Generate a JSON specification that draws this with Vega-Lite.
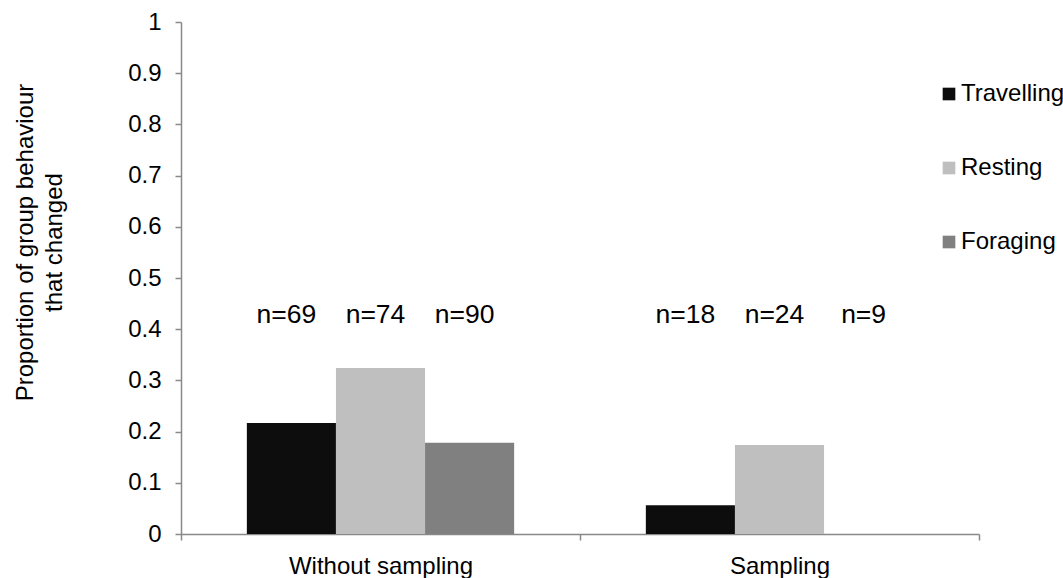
{
  "$schema": "https://vega.github.io/schema/vega-lite/v6.json",
  "autosize": {"type": "none"},
  "width": 798,
  "height": 512,
  "padding": {"left": 181, "top": 22, "right": 84, "bottom": 44},
  "background": "white",
  "config": {
    "view": {"stroke": null},
    "font": "Liberation Sans",
    "axis": {
      "labelFont": "Liberation Sans",
      "titleFont": "Liberation Sans",
      "labelFontSize": 24,
      "titleFontSize": 24,
      "titleFontWeight": "normal",
      "labelColor": "#000000",
      "titleColor": "#000000",
      "domainColor": "#898989",
      "tickColor": "#898989",
      "domainWidth": 1.5,
      "tickWidth": 1.5,
      "labelLimit": 0,
      "grid": false
    },
    "legend": {"labelFont": "Liberation Sans", "labelFontSize": 24, "labelColor": "#000000", "labelLimit": 0}
  },
  "data": {
    "values": [
      {"group": "Without sampling", "behaviour": "Travelling", "proportion": 0.217, "label": "n=69"},
      {"group": "Without sampling", "behaviour": "Resting", "proportion": 0.324, "label": "n=74"},
      {"group": "Without sampling", "behaviour": "Foraging", "proportion": 0.178, "label": "n=90"},
      {"group": "Sampling", "behaviour": "Travelling", "proportion": 0.056, "label": "n=18"},
      {"group": "Sampling", "behaviour": "Resting", "proportion": 0.174, "label": "n=24"},
      {"group": "Sampling", "behaviour": "Foraging", "proportion": 0, "label": "n=9"}
    ]
  },
  "encoding": {
    "x": {
      "field": "group",
      "type": "nominal",
      "sort": ["Without sampling", "Sampling"],
      "scale": {"paddingInner": 0, "paddingOuter": 0},
      "axis": {"title": null, "labelAngle": 0, "tickBand": "extent", "tickSize": 6, "labelPadding": 14, "labelLimit": 0}
    },
    "xOffset": {
      "field": "behaviour",
      "type": "nominal",
      "sort": ["Travelling", "Resting", "Foraging"],
      "scale": {"paddingInner": 0, "paddingOuter": 0.739}
    }
  },
  "layer": [
    {
      "mark": {"type": "bar"},
      "encoding": {
        "y": {
          "field": "proportion",
          "type": "quantitative",
          "scale": {"domain": [0, 1], "nice": false},
          "axis": {
            "title": ["Proportion of group behaviour", "that changed"],
            "titleLineHeight": 29,
            "titlePadding": 61,
            "titleY": 220,
            "values": [0, 0.1, 0.2, 0.3, 0.4, 0.5, 0.6, 0.7, 0.8, 0.9, 1],
            "format": "~g",
            "tickSize": 6,
            "labelPadding": 14
          }
        },
        "color": {
          "field": "behaviour",
          "type": "nominal",
          "sort": ["Travelling", "Resting", "Foraging"],
          "scale": {"domain": ["Travelling", "Resting", "Foraging"], "range": ["#0d0d0d", "#bfbfbf", "#808080"]},
          "legend": {
            "title": null,
            "orient": "none",
            "legendX": 756,
            "legendY": 60,
            "symbolType": "square",
            "symbolSize": 160,
            "symbolStrokeWidth": 0,
            "labelOffset": 0,
            "labelLimit": 0,
            "rowPadding": 50
          }
        }
      }
    },
    {
      "mark": {"type": "text", "fontSize": 26.5, "font": "Liberation Sans", "color": "#000000", "baseline": "middle", "align": "center", "dx": -5},
      "encoding": {
        "y": {"datum": 0.427, "type": "quantitative"},
        "text": {"field": "label", "type": "nominal"}
      }
    }
  ]
}
